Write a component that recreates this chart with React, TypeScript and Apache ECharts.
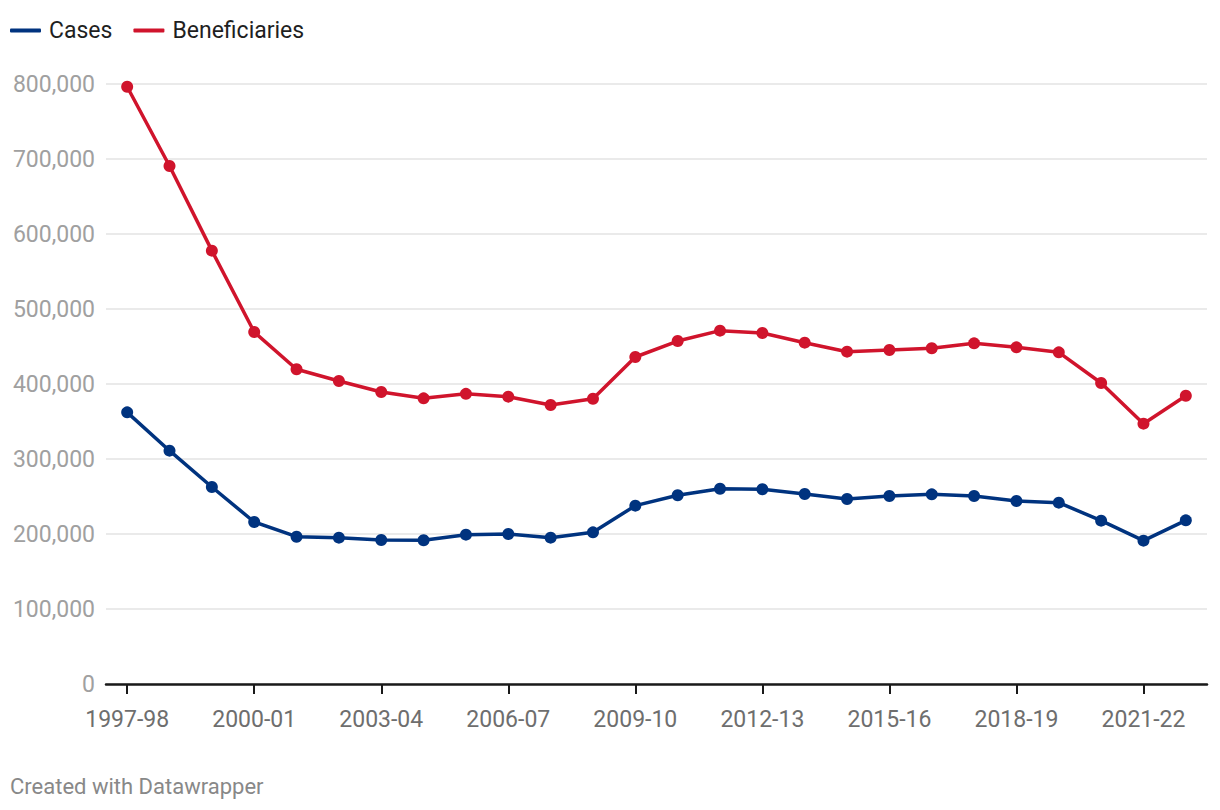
import React, { useEffect, useRef } from "react";
import * as echarts from "echarts";

const categories = [
  "1997-98", "1998-99", "1999-00", "2000-01", "2001-02", "2002-03", "2003-04",
  "2004-05", "2005-06", "2006-07", "2007-08", "2008-09", "2009-10", "2010-11",
  "2011-12", "2012-13", "2013-14", "2014-15", "2015-16", "2016-17", "2017-18",
  "2018-19", "2019-20", "2020-21", "2021-22", "2022-23",
];

const cases = [
  362200, 311100, 262700, 216000, 196400, 195100, 192000, 191600, 199100,
  200000, 195100, 202200, 237800, 251600, 260400, 259600, 253300, 246700,
  250700, 252900, 250700, 244000, 241800, 217800, 191100, 218200,
];

const beneficiaries = [
  796400, 690700, 577800, 469300, 419600, 404000, 389300, 380900, 386900,
  383100, 372000, 380400, 436000, 457300, 471100, 468000, 455100, 443100,
  445300, 447600, 454200, 448900, 442200, 401300, 347100, 384400,
];

const BLUE = "#00337f";
const RED = "#d0142c";
const FONT = "Roboto, 'Noto Sans', sans-serif";

export default function App() {
  const ref = useRef<HTMLDivElement>(null);

  useEffect(() => {
    if (!ref.current) return;
    const chart = echarts.init(ref.current, null, { renderer: "svg" });
    chart.setOption({
      animation: false,
      backgroundColor: "#ffffff",
      textStyle: { fontFamily: FONT },
      legend: {
        left: 5,
        top: 14,
        icon: "roundRect",
        itemWidth: 31,
        itemHeight: 4,
        itemGap: 21,
        textStyle: { fontSize: 23, color: "#1f1f1f", fontFamily: FONT, padding: [0, 0, 0, 3] },
        data: ["Cases", "Beneficiaries"],
      },
      grid: { left: 106, right: 13, top: 84, bottom: 126, containLabel: false },
      xAxis: {
        type: "category",
        data: categories,
        boundaryGap: true,
        axisLine: { lineStyle: { color: "#1a1a1a", width: 2.5 } },
        axisTick: { show: true, alignWithLabel: true, interval: 2, length: 10, lineStyle: { color: "#1a1a1a", width: 2 } },
        axisLabel: { interval: 2, fontSize: 23, color: "#6e6e6e", margin: 24, fontFamily: FONT },
        splitLine: { show: false },
      },
      yAxis: {
        type: "value",
        min: 0,
        max: 800000,
        interval: 100000,
        axisLine: { show: false },
        axisTick: { show: false },
        axisLabel: {
          fontSize: 23,
          color: "#a0a0a0",
          margin: 11,
          fontFamily: FONT,
          formatter: (v: number) => v.toLocaleString("en-US"),
        },
        splitLine: { lineStyle: { color: "#e3e3e3", width: 1.5 } },
      },
      series: [
        {
          name: "Cases",
          type: "line",
          data: cases,
          color: BLUE,
          lineStyle: { width: 3.5, color: BLUE },
          symbol: "circle",
          symbolSize: 12,
          itemStyle: { color: BLUE },
          z: 3,
        },
        {
          name: "Beneficiaries",
          type: "line",
          data: beneficiaries,
          color: RED,
          lineStyle: { width: 3.5, color: RED },
          symbol: "circle",
          symbolSize: 12,
          itemStyle: { color: RED },
          z: 3,
        },
      ],
      graphic: [
        {
          type: "text",
          left: 10,
          top: 775,
          style: { text: "Created with Datawrapper", fontSize: 22, fill: "#888888", fontFamily: FONT },
        },
      ],
    });
    return () => chart.dispose();
  }, []);

  return (
    <div
      ref={ref}
      style={{ position: "fixed", left: 0, top: 0, width: 1220, height: 810 }}
    />
  );
}
